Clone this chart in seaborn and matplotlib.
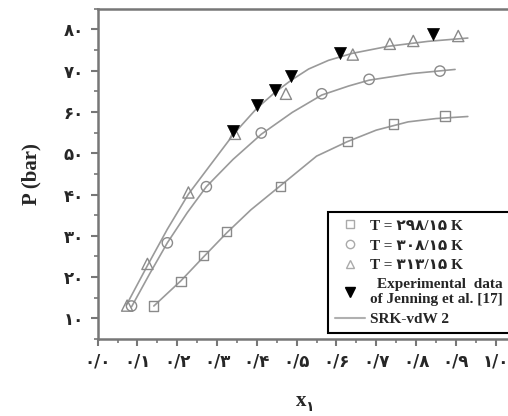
import matplotlib
matplotlib.use("Agg")
import matplotlib.pyplot as plt
from matplotlib.lines import Line2D
from matplotlib.ticker import MultipleLocator
import pandas as pd
import seaborn as sns

# experimental points
sq_x = [0.141, 0.209, 0.266, 0.324, 0.460, 0.627, 0.744, 0.873]
sq_p = [13.0, 19.0, 25.2, 31.1, 42.0, 52.9, 57.1, 59.0]
ci_x = [0.085, 0.175, 0.273, 0.411, 0.563, 0.682, 0.860]
ci_p = [13.0, 28.3, 41.9, 54.9, 64.4, 67.9, 69.9]
tr_x = [0.074, 0.125, 0.228, 0.345, 0.473, 0.641, 0.734, 0.793, 0.906]
tr_p = [13.1, 23.2, 40.5, 54.7, 64.4, 73.9, 76.5, 77.2, 78.4]
jen_x = [0.340, 0.401, 0.445, 0.485, 0.609, 0.843]
jen_p = [55.3, 61.6, 65.4, 68.6, 74.3, 78.8]

# SRK-vdW 2 model curves
sq_fit_x = [0.141, 0.209, 0.266, 0.324, 0.385, 0.460, 0.550, 0.627, 0.70, 0.78, 0.85, 0.93]
sq_fit_p = [13.0, 19.1, 24.9, 30.7, 36.3, 42.2, 49.3, 52.8, 55.6, 57.6, 58.4, 58.9]
ci_fit_x = [0.085, 0.13, 0.175, 0.225, 0.273, 0.34, 0.411, 0.489, 0.563, 0.631, 0.682, 0.79, 0.898]
ci_fit_p = [12.8, 20.7, 28.3, 35.6, 41.9, 48.5, 54.6, 59.9, 64.1, 66.3, 67.7, 69.3, 70.3]
tr_fit_x = [0.072, 0.125, 0.175, 0.228, 0.285, 0.343, 0.40, 0.445, 0.485, 0.53, 0.58, 0.64, 0.73, 0.83, 0.93]
tr_fit_p = [13.2, 22.8, 31.6, 40.1, 47.4, 54.8, 60.9, 64.7, 67.6, 70.4, 72.5, 74.2, 75.9, 77.1, 77.9]

fa = str.maketrans("0123456789.", "۰۱۲۳۴۵۶۷۸۹/")
x_ticks = [0.0, 0.1, 0.2, 0.3, 0.4, 0.5, 0.6, 0.7, 0.8, 0.9, 1.0]
y_ticks = [10, 20, 30, 40, 50, 60, 70, 80]
labels = ["T = 298.15 K".translate(fa), "T = 308.15 K".translate(fa),
          "T = 313.15 K".translate(fa), "Experimental  data\nof Jenning et al. [17]",
          "SRK-vdW 2"]

sns.set_style("ticks")
fonts = ["Liberation Serif", "DejaVu Sans"]
plt.rcParams["font.family"] = fonts
plt.rcParams["font.weight"] = "bold"

fig = plt.figure(figsize=(5.08, 4.16), dpi=100)
ax = fig.add_axes([0.1923, 0.185, 0.8077, 0.794])

gray = "#8a8a8a"
line_c = "#9a9a9a"
for fx, fp in [(sq_fit_x, sq_fit_p), (ci_fit_x, ci_fit_p), (tr_fit_x, tr_fit_p)]:
    sns.lineplot(x=fx, y=fp, ax=ax, color=line_c, lw=1.2, sort=False, zorder=2)

for px, pp, m, s in [(sq_x, sq_p, "s", 45), (ci_x, ci_p, "o", 55), (tr_x, tr_p, "^", 65)]:
    sns.scatterplot(x=px, y=pp, ax=ax, marker=m, s=s, facecolor="none",
                    edgecolor=gray, linewidth=1.0, zorder=3)
sns.scatterplot(x=jen_x, y=jen_p, ax=ax, marker="v", s=75, color="black",
                edgecolor="black", linewidth=0.5, zorder=4)

ax.set_xlim(0, 1.031)
ax.set_ylim(5, 85)
ax.set_xticks(x_ticks)
ax.set_xticklabels([f"{v:.1f}".translate(fa) for v in x_ticks])
ax.set_yticks(y_ticks)
ax.set_yticklabels([str(v).translate(fa) for v in y_ticks])
ax.xaxis.set_minor_locator(MultipleLocator(0.05))
ax.yaxis.set_minor_locator(MultipleLocator(5))
for lab in ax.get_xticklabels() + ax.get_yticklabels():
    lab.set_fontfamily(["DejaVu Sans"])
    lab.set_fontweight("bold")
    lab.set_fontsize(12)
ax.tick_params(which="major", length=5, width=1.5, color="#777777", pad=5)
ax.tick_params(which="minor", length=3, width=1.2, color="#777777")
ax.spines["right"].set_visible(False)
for sp in ["left", "bottom", "top"]:
    ax.spines[sp].set_color("#777777")
    ax.spines[sp].set_linewidth(1.8)

ax.set_ylabel("P (bar)", fontsize=15, fontweight="bold", labelpad=16)
ax.set_xlabel("")
fig.text(0.592, 0.025, "x", fontsize=15, fontweight="bold", ha="center")
fig.text(0.609, 0.012, "1".translate(fa), fontsize=10, fontweight="bold",
         family=["DejaVu Sans"], ha="center")

handles = [
    Line2D([], [], ls="none", marker="s", ms=6, mfc="none", mec="#aaaaaa"),
    Line2D([], [], ls="none", marker="o", ms=6, mfc="none", mec="#aaaaaa"),
    Line2D([], [], ls="none", marker="^", ms=6, mfc="none", mec="#aaaaaa"),
    Line2D([], [], ls="none", marker="v", ms=7, color="black"),
    Line2D([], [], color="#b0b0b0", lw=1.5),
]
leg = ax.legend(handles, labels, loc="upper right", bbox_to_anchor=(1.003, 0.49),
                bbox_transform=fig.transFigure, frameon=True, fancybox=False,
                edgecolor="black", framealpha=1, labelspacing=0.4, handlelength=2.0,
                handletextpad=0.3, borderpad=0.45, borderaxespad=0,
                prop={"family": fonts, "weight": "bold", "size": 11})
leg.get_frame().set_linewidth(1.5)
leg.get_texts()[3].set_multialignment("right")

fig.savefig("out.png", dpi=100)
